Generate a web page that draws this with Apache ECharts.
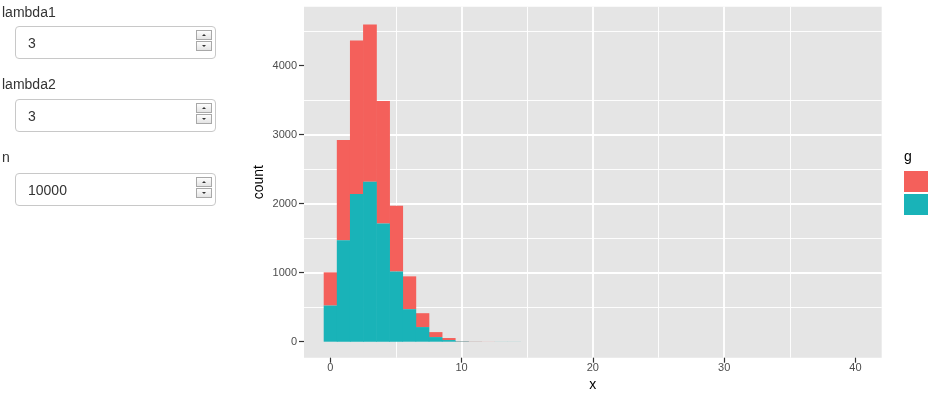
<!DOCTYPE html>
<html>
<head>
<meta charset="utf-8">
<title>poisson histogram</title>
<script src="https://cdn.jsdelivr.net/npm/echarts@6/dist/echarts.min.js"></script>
<style>
    body {
        margin: 0;
        width: 929px;
        height: 400px;
        overflow: hidden;
        background: #fff;
        font-family: "Liberation Sans", Arial, sans-serif;
    }
    #chart {
        position: absolute;
        left: 0;
        top: 0;
        width: 929px;
        height: 400px;
    }
    .label {
        position: absolute;
        left: 2px;
        font-size: 14px;
        color: #333;
        line-height: 16px;
    }
    .box {
        position: absolute;
        left: 15px;
        width: 201px;
        height: 33px;
        box-sizing: border-box;
        border: 1px solid #c8c8c8;
        border-radius: 4px;
        background: #fff;
    }
    .box .val {
        position: absolute;
        left: 12px;
        top: 8px;
        font-size: 14px;
        color: #333;
    }
    .spin {
        position: absolute;
        right: 3px;
        width: 16px;
        height: 10px;
        box-sizing: border-box;
        border: 1px solid #a8a8a8;
        background: linear-gradient(#fdfdfd, #e4e4e4);
    }
    .spin.up { top: 3px; }
    .spin.down { top: 14px; }
    .spin::after {
        content: "";
        position: absolute;
        left: 5px;
        top: 3px;
        border-left: 2px solid transparent;
        border-right: 2px solid transparent;
    }
    .spin.up::after { border-bottom: 2px solid #333; }
    .spin.down::after { border-top: 2px solid #333; }
</style>
</head>
<body>
<div id="chart"></div>

<div class="label" style="top:4px">lambda1</div>
<div class="box" style="top:26px"><span class="val">3</span><i class="spin up"></i><i class="spin down"></i></div>

<div class="label" style="top:76px">lambda2</div>
<div class="box" style="top:99px"><span class="val">3</span><i class="spin up"></i><i class="spin down"></i></div>

<div class="label" style="top:149px">n</div>
<div class="box" style="top:173px"><span class="val">10000</span><i class="spin up"></i><i class="spin down"></i></div>

<script>
// histogram bins (binwidth 1, centred on the integers)
const bins = [0, 1, 2, 3, 4, 5, 6, 7, 8, 9, 10, 11, 12, 13, 14];
// counts per group
const countG1 = [481, 1452, 2226, 2279, 1778, 952, 476, 201, 72, 29, 5, 2, 1, 0, 0];
const countG2 = [524, 1471, 2139, 2317, 1712, 1019, 471, 212, 67, 24, 5, 1, 0, 1, 1];
const groups = ['1', '2'];
const xTicks = [0, 10, 20, 30, 40];
const yTicks = [0, 1000, 2000, 3000, 4000];

const binWidth = 1;
const colors = ['#F4605B', '#19B3B8'];

const chart = echarts.init(document.getElementById('chart'));

// group 2 sits at the bottom, group 1 is stacked on top of it
const stackBase = countG2.map(() => 0);
const stackMid = countG2.slice();
const stackTop = countG2.map((v, i) => v + countG1[i]);

const renderBar = (params, api) => {
    const x = api.value(0);
    const topLeft = api.coord([x - binWidth / 2, api.value(2)]);
    const bottomRight = api.coord([x + binWidth / 2, api.value(1)]);
    const height = bottomRight[1] - topLeft[1];
    if (height <= 0) {
        return null;
    }
    return {
        type: 'rect',
        // a little overlap to the right hides the antialiasing seams between bins
        shape: {
            x: topLeft[0],
            y: topLeft[1],
            width: bottomRight[0] - topLeft[0] + 0.6,
            height: height
        },
        style: {
            fill: api.visual('color')
        }
    };
};

const makeSeries = (name, color, lower, upper) => ({
    type: 'custom',
    name: name,
    itemStyle: { color: color },
    encode: { x: 0, y: [1, 2] },
    data: bins.map((b, i) => [b, lower[i], upper[i]]),
    renderItem: renderBar
});

const axisText = { color: '#4D4D4D', fontSize: 11, fontFamily: 'Liberation Sans' };

chart.setOption({
    animation: false,
    textStyle: { fontFamily: 'Liberation Sans' },
    title: {
        text: 'g',
        left: 904,
        top: 150,
        padding: 0,
        textStyle: { fontSize: 14, fontWeight: 'normal', color: '#000' }
    },
    legend: {
        data: groups,
        orient: 'vertical',
        left: 904,
        top: 171,
        padding: 0,
        icon: 'rect',
        itemWidth: 24,
        itemHeight: 21,
        itemGap: 2,
        selectedMode: false,
        textStyle: { fontSize: 11, color: '#000' }
    },
    grid: {
        left: 304,
        right: 47.3,
        top: 6.7,
        bottom: 42.3,
        show: true,
        backgroundColor: '#E5E5E5',
        borderWidth: 0
    },
    xAxis: {
        type: 'value',
        position: 'bottom',
        min: -2,
        max: 42,
        splitNumber: 5,
        name: 'x',
        nameLocation: 'middle',
        nameGap: 20,
        nameMoveOverlap: false,
        nameTextStyle: { fontSize: 14, color: '#000' },
        axisLine: { show: false, onZero: false },
        axisTick: { show: true, inside: false, length: 5, lineStyle: { color: '#333333', width: 1.2 }, customValues: xTicks },
        axisLabel: Object.assign({ margin: 5, customValues: xTicks }, axisText),
        splitLine: { showMinLine: false, showMaxLine: false, lineStyle: { color: '#fff', width: 1.8 } },
        minorTick: { show: false, splitNumber: 2 },
        minorSplitLine: { show: true, lineStyle: { color: '#fff', width: 0.9 } }
    },
    yAxis: {
        type: 'value',
        position: 'left',
        min: -232,
        max: 4855,
        splitNumber: 5,
        name: 'count',
        nameLocation: 'middle',
        nameGap: 38,
        nameMoveOverlap: false,
        nameTextStyle: { fontSize: 14, color: '#000' },
        axisLine: { show: false, onZero: false },
        axisTick: { show: true, inside: false, length: 5, lineStyle: { color: '#333333', width: 1.2 }, customValues: yTicks },
        axisLabel: Object.assign({ margin: 7, customValues: yTicks, formatter: v => String(v) }, axisText),
        splitLine: { showMinLine: false, showMaxLine: false, lineStyle: { color: '#fff', width: 1.8 } },
        minorTick: { show: false, splitNumber: 2 },
        minorSplitLine: { show: true, lineStyle: { color: '#fff', width: 0.9 } }
    },
    series: [
        makeSeries(groups[0], colors[0], stackMid, stackTop),
        makeSeries(groups[1], colors[1], stackBase, stackMid)
    ]
});
</script>
</body>
</html>
